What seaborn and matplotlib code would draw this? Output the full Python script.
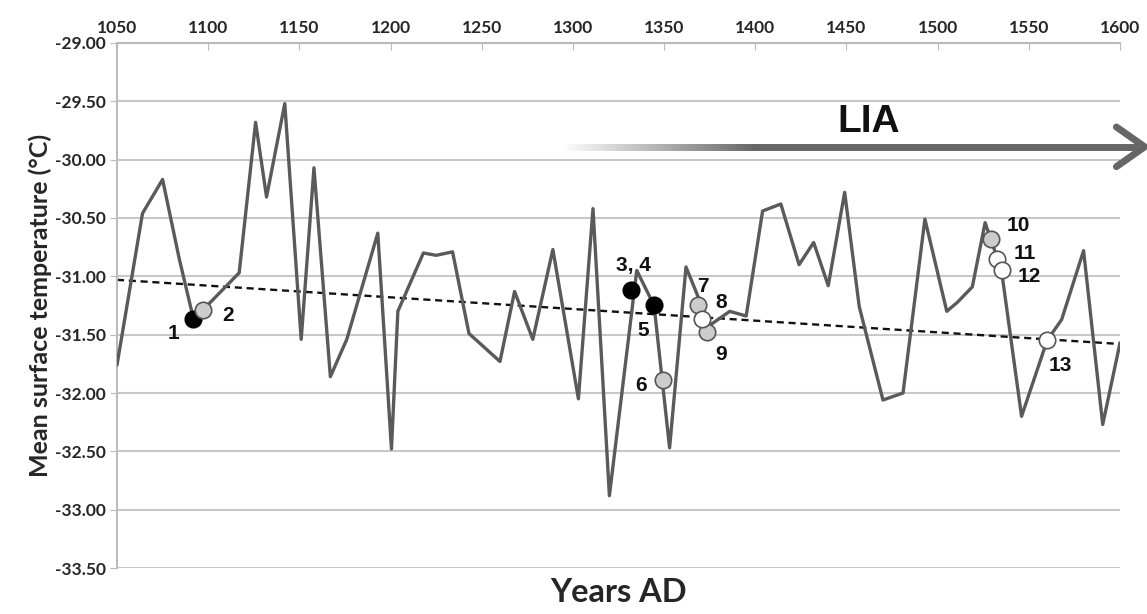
import numpy as np
import pandas as pd
import seaborn as sns
import matplotlib.pyplot as plt
from matplotlib.collections import LineCollection

# temperature series (years AD, mean surface temperature in degC)
years = [1050, 1064, 1075, 1084, 1092, 1117, 1126, 1132, 1142, 1151, 1158, 1167,
         1176, 1193, 1200.5, 1204, 1218, 1225, 1234, 1243, 1260, 1268, 1278, 1289,
         1303, 1311, 1320, 1335, 1344.5, 1353, 1362, 1375, 1386, 1395, 1404, 1414,
         1424, 1432, 1440, 1449, 1457, 1470, 1481, 1493, 1505, 1511, 1519, 1526,
         1535, 1546, 1560, 1568, 1580, 1590.5, 1600]
temps = [-31.76, -30.46, -30.17, -30.84, -31.37, -30.97, -29.68, -30.32, -29.52, -31.54,
         -30.07, -31.86, -31.54, -30.63, -32.48, -31.30, -30.80, -30.82, -30.79, -31.49,
         -31.73, -31.13, -31.54, -30.77, -32.05, -30.42, -32.88, -30.95, -31.25, -32.47,
         -30.92, -31.42, -31.30, -31.34, -30.44, -30.38, -30.90, -30.71, -31.08, -30.28,
         -31.26, -32.06, -32.00, -30.51, -31.30, -31.22, -31.09, -30.54, -30.95, -32.20,
         -31.55, -31.37, -30.78, -32.27, -31.57]

# dated samples
sample_labels = ["1", "2", "3, 4", "5", "6", "7", "8", "9", "10", "11", "12", "13"]
sample_years = [1091.8, 1097.3, 1331.7, 1344.5, 1349.6, 1368.4, 1370.6, 1373.4,
                1529.1, 1532.4, 1535.1, 1559.8]
sample_temps = [-31.37, -31.29, -31.12, -31.25, -31.89, -31.25, -31.37, -31.48,
                -30.68, -30.85, -30.95, -31.55]
sample_kind = ["black", "grey", "black", "black", "grey", "grey", "white", "grey",
               "grey", "white", "white", "white"]

# linear trend end points
trend_years = [1050, 1600]
trend_temps = [-31.03, -31.58]

yticks = [-29.0, -29.5, -30.0, -30.5, -31.0, -31.5, -32.0, -32.5, -33.0, -33.5]
xticks = list(range(1050, 1601, 50))

sns.set_style("white")
plt.rcParams['axes.unicode_minus'] = False
plt.rcParams['font.family'] = ['Lato', 'DejaVu Sans']

fig = plt.figure(figsize=(11.47, 6.14), dpi=100)
ax = fig.add_axes([0.102, 0.0749, 0.8745, 0.8551])

df = pd.DataFrame({"year": years, "temp": temps})
sns.lineplot(data=df, x="year", y="temp", color="#5a5a5a", linewidth=2.4, ax=ax, zorder=3)

ax.plot(trend_years, trend_temps, color="#111111", linestyle=(0, (3, 2)), linewidth=1.7, zorder=2)

samples = pd.DataFrame({"year": sample_years, "temp": sample_temps, "kind": sample_kind})
palette = {"black": "#000000", "grey": "#cccccc", "white": "#ffffff"}
for kind, sub in samples.groupby("kind"):
    edge = "#000000" if kind == "black" else "#555555"
    sns.scatterplot(data=sub, x="year", y="temp", color=palette[kind], edgecolor=edge,
                    linewidth=1.2, s=140, ax=ax, zorder=5, legend=False)

# label offsets in points
offsets = {"1": (-14, -10), "2": (18, -4), "3, 4": (2, 18), "5": (-8, -18),
           "6": (-16, -4), "7": (4, 14), "8": (14, 12), "9": (10, -16),
           "10": (20, 10), "11": (20, 4), "12": (20, -4), "13": (10, -18)}
for lab, x, y in zip(sample_labels, sample_years, sample_temps):
    ax.annotate(lab, (x, y), xytext=offsets[lab], textcoords="offset points",
                ha="center", va="center", fontsize=15, fontweight="bold",
                family="Liberation Sans", color="#111111", zorder=6)

# LIA arrow: tail fades from white to grey, solid shaft after that
arrow_y = -29.89
grey = 0.40
xs = np.linspace(1293, 1400, 100)
pts = np.array([xs, np.full_like(xs, arrow_y)]).T.reshape(-1, 1, 2)
segs = np.concatenate([pts[:-1], pts[1:]], axis=1)
fade = (xs[:-1] - 1293) / (1400 - 1293)
cols = [(1 - a * (1 - grey),) * 3 for a in fade]
lc = LineCollection(segs, colors=cols, linewidths=5, capstyle="butt", antialiaseds=False,
                    clip_on=False, zorder=4)
ax.add_collection(lc)
ax.plot([1399, 1610], [arrow_y, arrow_y], color=(grey, grey, grey), linewidth=5,
        solid_capstyle="butt", clip_on=False, zorder=4)
ax.plot([1598, 1613.5, 1598], [-29.72, arrow_y, -30.06], color=(grey, grey, grey), linewidth=5,
        solid_capstyle="round", solid_joinstyle="miter", clip_on=False, zorder=4)
ax.text(1462, -29.68, "LIA", fontsize=28, fontweight="bold", family="Liberation Sans",
        ha="center", va="center", color="#111111")

ax.set_xlim(1050, 1600)
ax.set_ylim(-33.5, -29.0)
ax.set_yticks(yticks)
ax.set_yticklabels([f"{v:.2f}" for v in yticks])
ax.set_xticks(xticks)
ax.xaxis.tick_top()
ax.tick_params(axis="x", direction="in", length=5, color="#bbbbbb", labelsize=12.5, pad=5)
ax.tick_params(axis="y", direction="out", length=5, color="#bbbbbb", labelsize=12.5, pad=3,
               left=True)
for lab in ax.get_xticklabels() + ax.get_yticklabels():
    lab.set_fontweight("bold")
ax.yaxis.grid(True, color="#c8c8c8", linewidth=1.5)
ax.set_axisbelow(True)
for side in ["right", "bottom"]:
    ax.spines[side].set_visible(False)
for side in ["left", "top"]:
    ax.spines[side].set_color("#bbbbbb")
    ax.spines[side].set_linewidth(1.5)

ax.xaxis.set_label_position("bottom")
ax.set_xlabel("Years AD", fontsize=23.5, fontweight="bold", labelpad=7)
ax.set_ylabel("Mean surface temperature (°C)", fontsize=18, fontweight="bold", labelpad=2)

fig.savefig("out.png", dpi=100)
